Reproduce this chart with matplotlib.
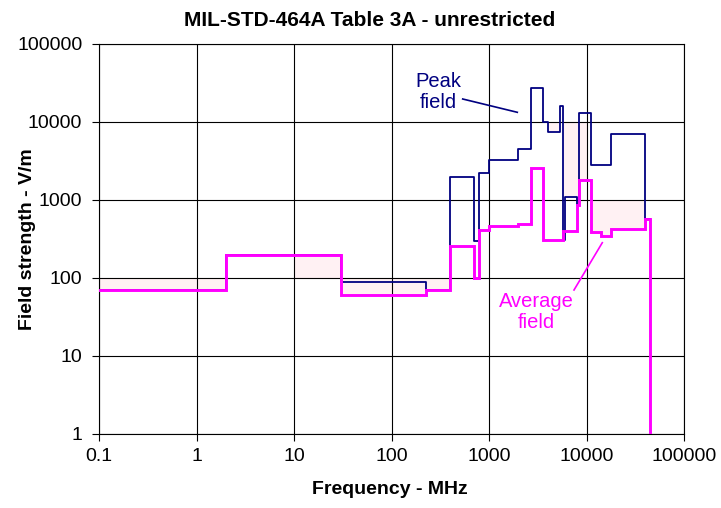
import matplotlib
matplotlib.use("Agg")
import matplotlib.pyplot as plt
import numpy as np

# ---- data (MHz, V/m) ----
peak_edges = [0.1, 2, 30, 225, 400, 700, 790, 1000, 2000, 2700, 3600, 4000,
              5400, 5800, 6000, 7900, 8400, 11000, 18000, 40000, 45000]
peak_vals = [70, 200, 90, 70, 2000, 300, 2200, 3300, 4500, 27000, 10000, 7400,
             16000, 310, 1100, 860, 13000, 2800, 7000, 570]

avg_edges = [0.1, 2, 30, 225, 400, 700, 790, 1000, 2000, 2700, 3600, 5800,
             7900, 8400, 11000, 14000, 18000, 40000, 45000]
avg_vals = [70, 200, 60, 70, 260, 100, 410, 460, 490, 2600, 310, 400,
            860, 1800, 390, 350, 420, 570]
avg_end = 1

# faint background shading (interval edges, lower and upper values; nan = none)
shade_edges = [0.1, 2, 10, 30, 225, 400, 4000, 5400, 5900, 7900, 8400, 10000,
               11000, 14000, 18000, 40000]
shade_low = [70, np.nan, 100, 60, 70, np.nan, 7400, np.nan, 1100, 860, 1800,
             np.nan, 390, 350, 420]
shade_high = [100, np.nan, 200, 100, 100, np.nan, 10000, np.nan, 10000, 10000,
              10000, np.nan, 1000, 1000, 1000]

x_ticks = [0.1, 1, 10, 100, 1000, 10000, 100000]
x_tick_labels = ["0.1", "1", "10", "100", "1000", "10000", "100000"]
y_ticks = [1, 10, 100, 1000, 10000, 100000]
y_tick_labels = ["1", "10", "100", "1000", "10000", "100000"]

title = "MIL-STD-464A Table 3A - unrestricted"
xlabel = "Frequency - MHz"
ylabel = "Field strength - V/m"

NAVY = "#000080"
MAGENTA = "#FF00FF"

plt.rcParams['font.family'] = ['Liberation Sans', 'DejaVu Sans']

fig = plt.figure(figsize=(7.21, 5.08), dpi=100)
ax = fig.add_axes([99/721, 1-434/508, (684-99)/721, (434-44)/508])
ax.set_xscale('log')
ax.set_yscale('log')
ax.set_xlim(0.1, 100000)
ax.set_ylim(1, 100000)

# shading
for i in range(len(shade_low)):
    lo, hi = shade_low[i], shade_high[i]
    if np.isnan(lo):
        continue
    ax.fill_between([shade_edges[i], shade_edges[i+1]], [lo, lo], [hi, hi],
                    color="#FFF1F3", linewidth=0, zorder=0.2)

ax.set_axisbelow(True)
ax.grid(True, which='major', color='black', linewidth=0.8)
ax.minorticks_off()

ax.step(peak_edges, peak_vals + [peak_vals[-1]], where='post', color=NAVY,
        linewidth=1.3, zorder=2)
ax.step(avg_edges, avg_vals + [avg_end], where='post', color=MAGENTA,
        linewidth=2.1, zorder=3, solid_joinstyle='miter')

ax.set_xticks(x_ticks)
ax.set_xticklabels(x_tick_labels)
ax.set_yticks(y_ticks)
ax.set_yticklabels(y_tick_labels)
ax.tick_params(axis='both', which='major', direction='out', length=5,
               width=0.8, color='black', labelsize=14)
ax.tick_params(axis='x', pad=5)
ax.tick_params(axis='y', pad=7)
for s in ax.spines.values():
    s.set_color('black')
    s.set_linewidth(0.8)

fig.text(370/721, 1-20/508, title, fontsize=15, fontweight='bold',
         ha='center', va='center')
ax.set_xlabel(xlabel, fontsize=14, fontweight='bold')
ax.xaxis.set_label_coords(0.498, (434-489)/390)
ax.xaxis.label.set_va('center')
ax.set_ylabel(ylabel, fontsize=14, fontweight='bold')
ax.yaxis.set_label_coords((28-99)/585, 0.5)
ax.yaxis.label.set_va('center')

# annotations
ax.text(0.5795, 0.877, "Peak\nfield", transform=ax.transAxes, color=NAVY,
        fontsize=14.5, ha='center', va='center', linespacing=1.15)
ax.plot([(462.7-99)/585, (517.3-99)/585], [(434-99)/390, (434-112.3)/390],
        transform=ax.transAxes, color=NAVY, linewidth=1.2, zorder=4)
ax.text(0.747, 0.3128, "Average\nfield", transform=ax.transAxes, color=MAGENTA,
        fontsize=14.5, ha='center', va='center', linespacing=1.15)
ax.plot([(574-99)/585, (602.3-99)/585], [(434-290)/390, (434-242.7)/390],
        transform=ax.transAxes, color=MAGENTA, linewidth=1.2, zorder=4)

fig.savefig("out.png", dpi=100)
